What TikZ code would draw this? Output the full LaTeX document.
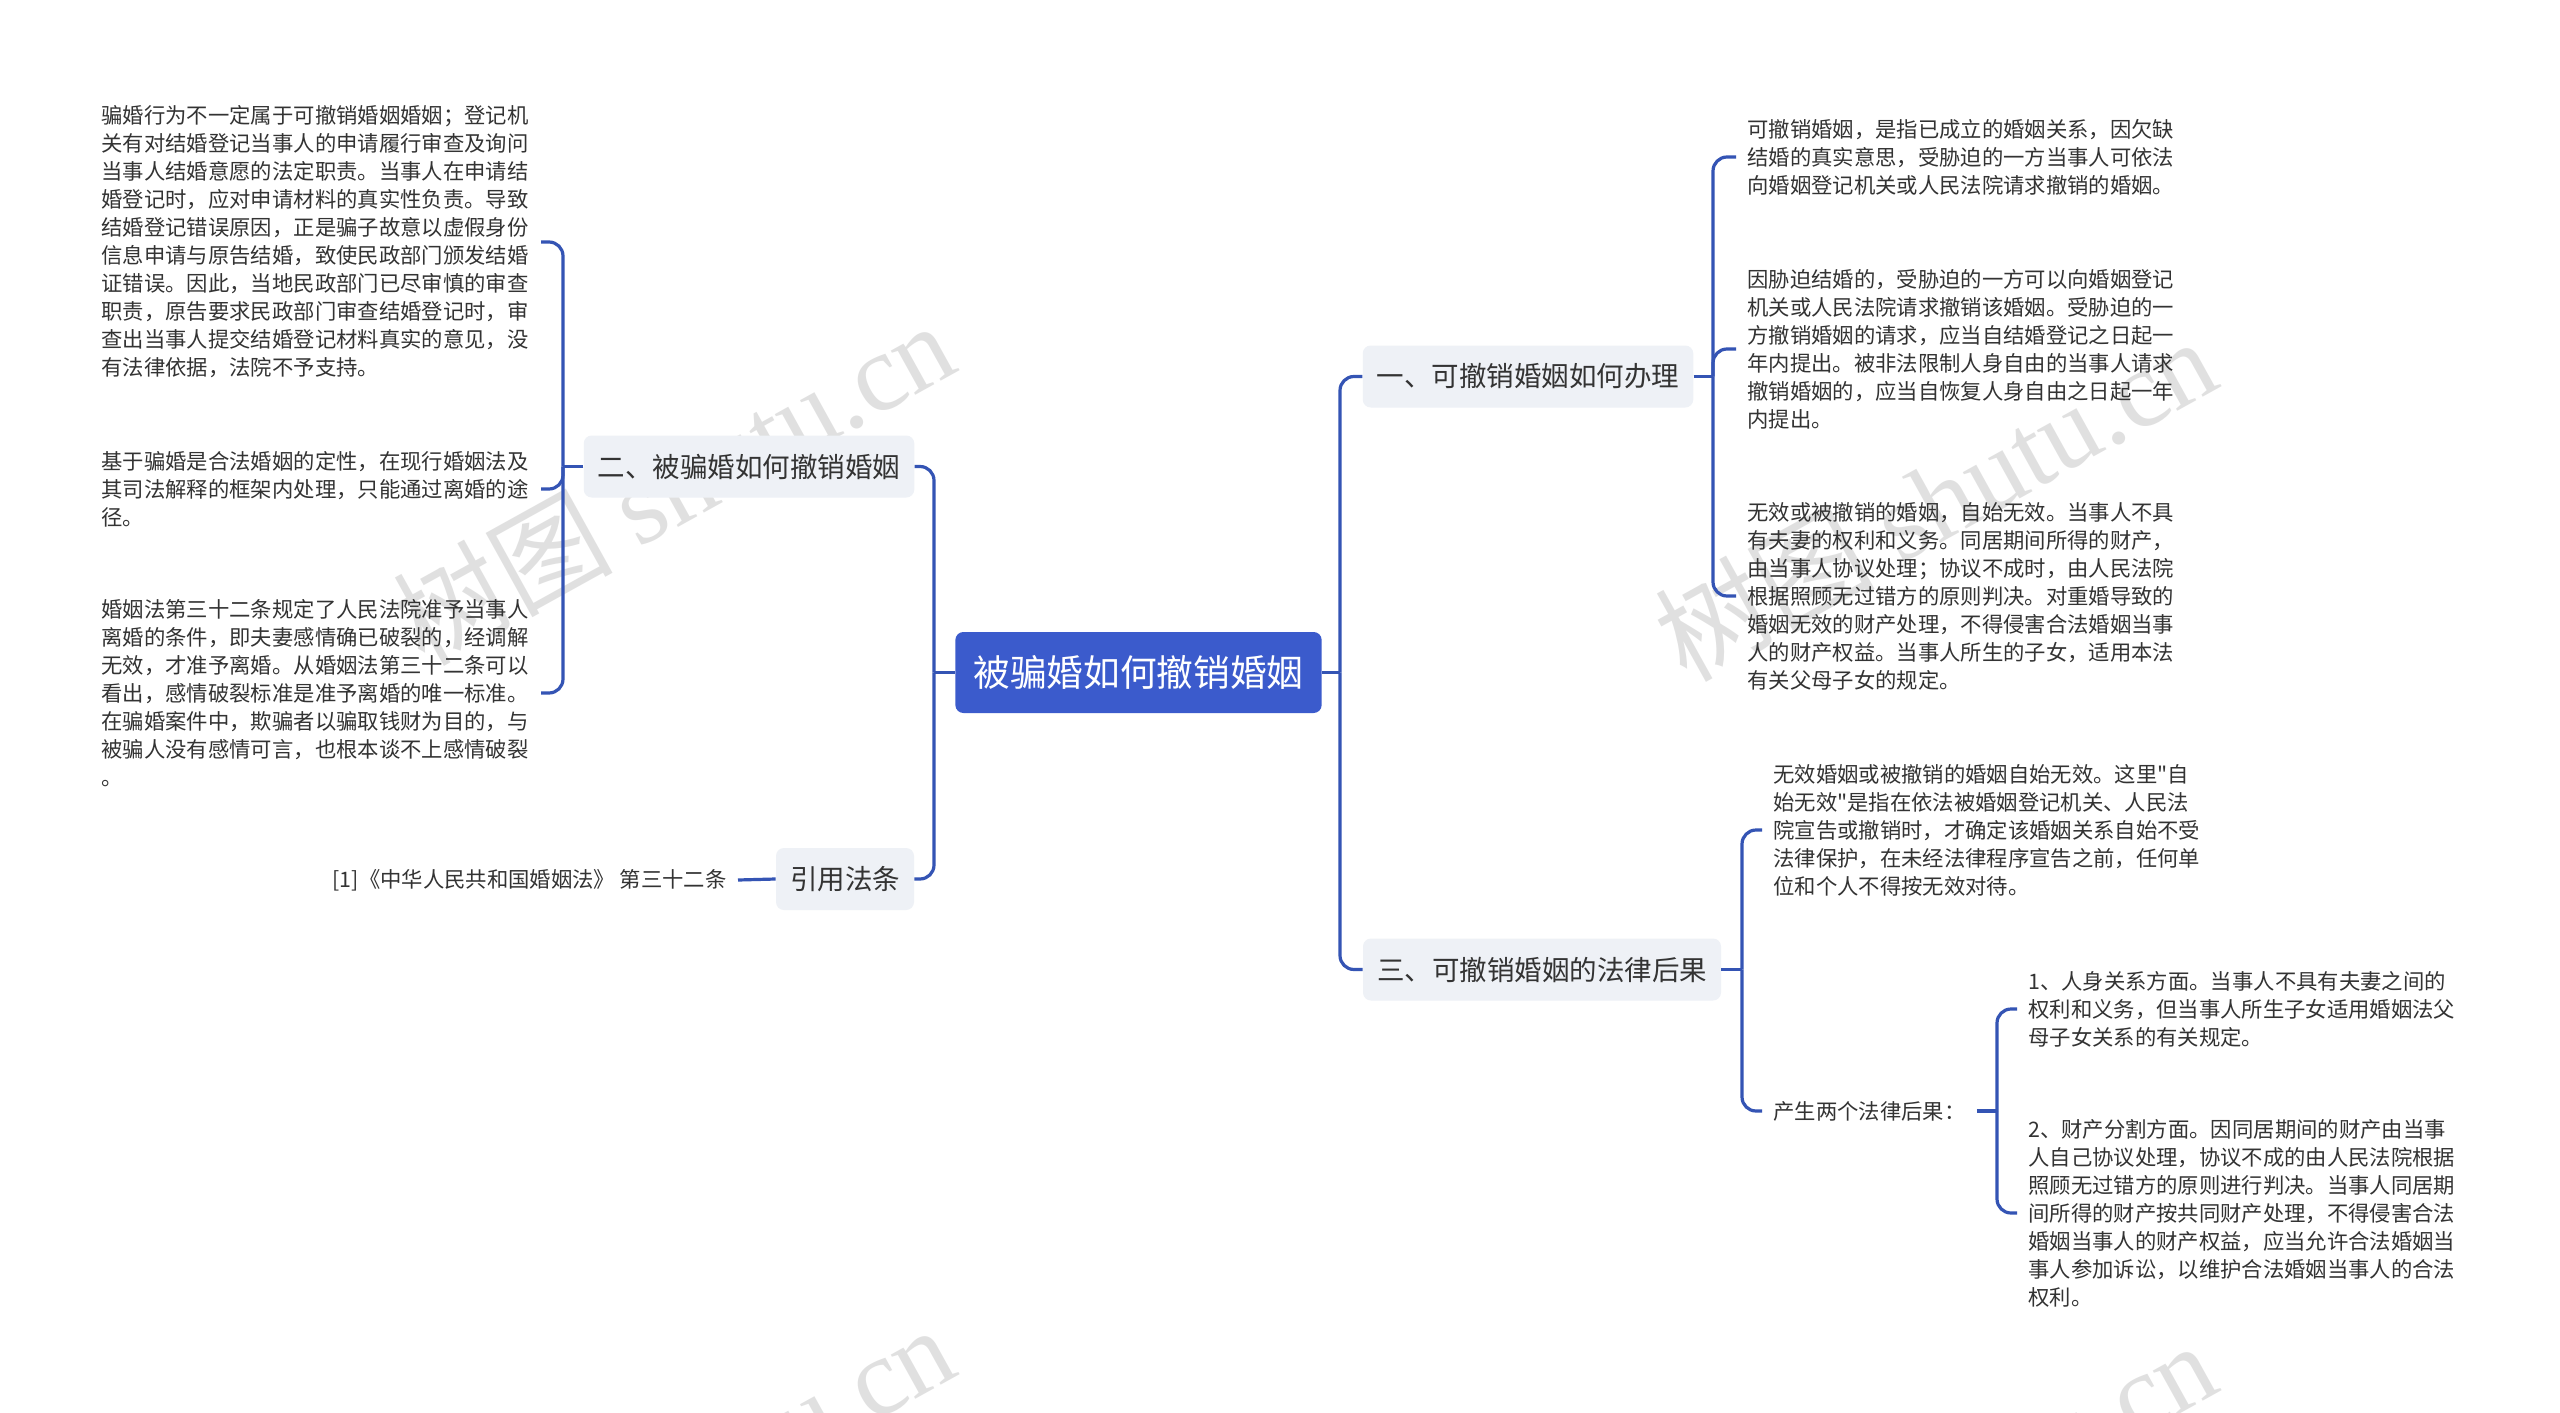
\documentclass[tikz,border=0pt]{standalone}
\usepackage{fontspec}
\newfontfamily\cjk{Noto Sans CJK SC}
\newfontfamily\wmlat{Liberation Serif}
\definecolor{mainblue}{RGB}{59,91,204}
\definecolor{linkblue}{RGB}{52,84,180}
\definecolor{boxgray}{RGB}{238,241,246}
\definecolor{txt}{RGB}{51,51,51}
\definecolor{wmgray}{RGB}{200,200,200}
\begin{document}
\begin{tikzpicture}[x=0.5pt,y=-0.5pt,
  conn/.style={draw=linkblue, line width=1.6pt, rounded corners=7pt},
  rootbox/.style={fill=mainblue, rounded corners=4pt, text=white, font=\cjk\fontsize{18.35}{20}\selectfont, minimum height=40.5pt, inner xsep=9pt},
  topic/.style={fill=boxgray, rounded corners=4pt, text=txt, font=\cjk\fontsize{13.75}{16}\selectfont, minimum height=31pt, inner xsep=7pt},
  leaf/.style={text=txt, font=\cjk\fontsize{10.67}{14}\selectfont, align=left, text width=214pt, inner xsep=5.5pt, inner ysep=2pt},
  leafshort/.style={text=txt, font=\cjk\fontsize{10.67}{14}\selectfont, inner xsep=5.5pt, inner ysep=2pt},
  wm/.style={text=wmgray, opacity=0.55, font=\fontsize{55}{60}\selectfont, inner sep=0pt}
]
\useasboundingbox (0,0) rectangle (2560,1413);
\fill[white] (0,0) rectangle (2560,1413);

% watermarks
\begin{scope}
\clip (0,0) rectangle (2560,1413);
\node[wm, rotate=29] (wm1) at (673,482) {\cjk 树图\ \wmlat shutu.cn};
\node[wm, rotate=29] (wm2) at (1935,498) {\cjk 树图\ \wmlat shutu.cn};
\node[wm, rotate=29] (wm3) at (673,1486) {\cjk 树图\ \wmlat shutu.cn};
\node[wm, rotate=29] (wm4) at (1935,1502) {\cjk 树图\ \wmlat shutu.cn};
\end{scope}

% root
\node[rootbox] (root) at (1138.5,672.5) {被骗婚如何撤销婚姻};

% topics
\node[topic] (t1) at (1528,376.5) {一、可撤销婚姻如何办理};
\node[topic] (t3) at (1542,969.5) {三、可撤销婚姻的法律后果};
\node[topic] (t2) at (749,466.5) {二、被骗婚如何撤销婚姻};
\node[topic] (tr) at (845,879) {引用法条};

% right leaves of t1
\node[leaf, anchor=west] (r1) at (1736,157) {可撤销婚姻，是指已成立的婚姻关系，因欠缺\\结婚的真实意思，受胁迫的一方当事人可依法\\向婚姻登记机关或人民法院请求撤销的婚姻。};
\node[leaf, anchor=west] (r2) at (1736,349) {因胁迫结婚的，受胁迫的一方可以向婚姻登记\\机关或人民法院请求撤销该婚姻。受胁迫的一\\方撤销婚姻的请求，应当自结婚登记之日起一\\年内提出。被非法限制人身自由的当事人请求\\撤销婚姻的，应当自恢复人身自由之日起一年\\内提出。};
\node[leaf, anchor=west] (r3) at (1736,596) {无效或被撤销的婚姻，自始无效。当事人不具\\有夫妻的权利和义务。同居期间所得的财产，\\由当事人协议处理；协议不成时，由人民法院\\根据照顾无过错方的原则判决。对重婚导致的\\婚姻无效的财产处理，不得侵害合法婚姻当事\\人的财产权益。当事人所生的子女，适用本法\\有关父母子女的规定。};

% leaves of t3
\node[leaf, anchor=west] (s1) at (1762,830) {无效婚姻或被撤销的婚姻自始无效。这里"自\\始无效"是指在依法被婚姻登记机关、人民法\\院宣告或撤销时，才确定该婚姻关系自始不受\\法律保护，在未经法律程序宣告之前，任何单\\位和个人不得按无效对待。};
\node[leafshort, anchor=west] (s2) at (1762,1111) {产生两个法律后果：};
\node[leaf, anchor=west] (u1) at (2017,1009) {1、人身关系方面。当事人不具有夫妻之间的\\权利和义务，但当事人所生子女适用婚姻法父\\母子女关系的有关规定。};
\node[leaf, anchor=west] (u2) at (2017,1213) {2、财产分割方面。因同居期间的财产由当事\\人自己协议处理，协议不成的由人民法院根据\\照顾无过错方的原则进行判决。当事人同居期\\间所得的财产按共同财产处理，不得侵害合法\\婚姻当事人的财产权益，应当允许合法婚姻当\\事人参加诉讼，以维护合法婚姻当事人的合法\\权利。};

% left leaves of t2
\node[leaf, anchor=east] (l1) at (541,242) {骗婚行为不一定属于可撤销婚姻婚姻；登记机\\关有对结婚登记当事人的申请履行审查及询问\\当事人结婚意愿的法定职责。当事人在申请结\\婚登记时，应对申请材料的真实性负责。导致\\结婚登记错误原因，正是骗子故意以虚假身份\\信息申请与原告结婚，致使民政部门颁发结婚\\证错误。因此，当地民政部门已尽审慎的审查\\职责，原告要求民政部门审查结婚登记时，审\\查出当事人提交结婚登记材料真实的意见，没\\有法律依据，法院不予支持。};
\node[leaf, anchor=east] (l2) at (541,489) {基于骗婚是合法婚姻的定性，在现行婚姻法及\\其司法解释的框架内处理，只能通过离婚的途\\径。};
\node[leaf, anchor=east] (l3) at (541,693) {婚姻法第三十二条规定了人民法院准予当事人\\离婚的条件，即夫妻感情确已破裂的，经调解\\无效，才准予离婚。从婚姻法第三十二条可以\\看出，感情破裂标准是准予离婚的唯一标准。\\在骗婚案件中，欺骗者以骗取钱财为目的，与\\被骗人没有感情可言，也根本谈不上感情破裂\\。};
\node[leafshort, anchor=east] (ref) at (738,880) {[1]《中华人民共和国婚姻法》 第三十二条};

% junction coordinates
\coordinate (jR) at (1340,672.5);
\coordinate (jL) at (934,672.5);
\coordinate (j1) at (1713,376.5);
\coordinate (j3) at (1742,969.5);
\coordinate (js) at (1997,1111);
\coordinate (j2) at (563,466.5);

% connectors
\draw[conn] (root.east) -- (jR);
\draw[conn] (jR) |- (t1.west);
\draw[conn] (jR) |- (t3.west);
\draw[conn] (root.west) -- (jL);
\draw[conn] (jL) |- (t2.east);
\draw[conn] (jL) |- (tr.east);

\draw[conn] (t1.east) -- (j1);
\draw[conn] (j1) |- (r1.west);
\draw[conn] (j1) |- (r2.west);
\draw[conn] (j1) |- (r3.west);

\draw[conn] (t3.east) -- (j3);
\draw[conn] (j3) |- (s1.west);
\draw[conn] (j3) |- (s2.west);

\draw[conn] (s2.east) -- (js);
\draw[conn] (js) |- (u1.west);
\draw[conn] (js) |- (u2.west);

\draw[conn] (t2.west) -- (j2);
\draw[conn] (j2) |- (l1.east);
\draw[conn] (j2) |- (l2.east);
\draw[conn] (j2) |- (l3.east);

\draw[conn] (tr.west) -- (ref.east);
\end{tikzpicture}
\end{document}
